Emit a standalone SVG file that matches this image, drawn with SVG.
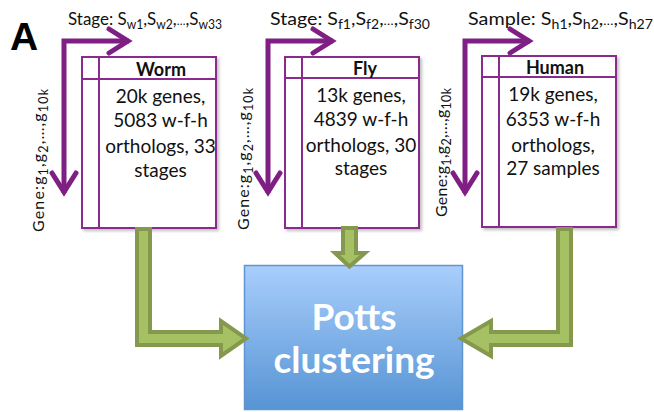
<svg xmlns="http://www.w3.org/2000/svg" width="654" height="412" viewBox="0 0 654 412">
  <defs>
    <style>
      .lbl { font-family: Lato, "Liberation Sans", sans-serif; font-size: 17.5px; fill: #111; }
      .sub { font-size: 12.5px; }
      .ell { font-size: 12px; }
      .gene { font-family: Lato, "Liberation Sans", sans-serif; font-size: 16px; fill: #111; }
      .title { font-family: Lato, "Liberation Sans", sans-serif; font-size: 18px; font-weight: bold; fill: #111; text-anchor: middle; }
      .body { font-family: Lato, "Liberation Sans", sans-serif; font-size: 19px; fill: #111; text-anchor: middle; }
      .box { fill: #fff; stroke: #8a2a8e; stroke-width: 2; }
      .div { stroke: #8a2a8e; stroke-width: 2; fill: none; }
      .axis { stroke: #7f1f84; stroke-width: 5; fill: none; }
      .flow { fill: #a6c164; stroke: #84984e; stroke-width: 4; stroke-linejoin: miter; }
      .potts { font-family: Lato, "Liberation Sans", sans-serif; font-size: 37px; font-weight: bold; fill: #fff; text-anchor: middle; }
    </style>
    <marker id="chev" markerUnits="userSpaceOnUse" markerWidth="26" markerHeight="28" viewBox="0 0 26 28" refX="23" refY="14" orient="auto-start-reverse" overflow="visible">
      <path d="M3,2 L22,14 L3,26" fill="none" stroke="#7f1f84" stroke-width="5" stroke-linecap="round" stroke-linejoin="miter"/>
    </marker>
    <linearGradient id="blue" x1="0" y1="0" x2="0" y2="1">
      <stop offset="0" stop-color="#a9cefc"/>
      <stop offset="1" stop-color="#5694d4"/>
    </linearGradient>
    <filter id="shadow" x="-10%" y="-10%" width="125%" height="125%">
      <feDropShadow dx="2" dy="2" stdDeviation="1.5" flood-color="#000" flood-opacity="0.25"/>
    </filter>
  </defs>

  <!-- panel letter -->
  <text x="10" y="50" font-family="'Liberation Sans', Arial, sans-serif" font-size="39" font-weight="bold" fill="#000">A</text>

  <!-- worm data matrix -->
  <g id="worm">
    <text class="lbl" x="68" y="25" textLength="154" lengthAdjust="spacingAndGlyphs">Stage: S<tspan class="sub" dy="4">w1</tspan><tspan dy="-4">,S</tspan><tspan class="sub" dy="4">w2</tspan><tspan dy="-4">,</tspan><tspan class="ell">…</tspan>,S<tspan class="sub" dy="4">w33</tspan></text>
    <path class="axis" d="M64,193 V41 H129" marker-start="url(#chev)" marker-end="url(#chev)"/>
    <text class="gene" transform="translate(44,232) rotate(-90)" textLength="143">Gene:g<tspan class="sub" dy="4">1</tspan><tspan dy="-4">,g</tspan><tspan class="sub" dy="4">2</tspan><tspan dy="-4">,…,g</tspan><tspan class="sub" dy="4">10k</tspan></text>
    <rect class="box" x="82" y="57" width="134" height="171" filter="url(#shadow)"/>
    <path class="div" d="M99,57 V228 M82,79 H216"/>
    <text class="title" x="161" y="76">Worm</text>
    <text class="body" x="160.5" y="103">20k  genes,</text>
    <text class="body" x="160.5" y="127">5083 w-f-h</text>
    <text class="body" x="160.5" y="153">orthologs, 33</text>
    <text class="body" x="160.5" y="177">stages</text>
  </g>

  <!-- fly data matrix -->
  <g id="fly">
    <text class="lbl" x="270" y="25" textLength="160" lengthAdjust="spacingAndGlyphs">Stage: S<tspan class="sub" dy="4">f1</tspan><tspan dy="-4">,S</tspan><tspan class="sub" dy="4">f2</tspan><tspan dy="-4">,</tspan><tspan class="ell">…</tspan>,S<tspan class="sub" dy="4">f30</tspan></text>
    <path class="axis" d="M268,193 V41 H333" marker-start="url(#chev)" marker-end="url(#chev)"/>
    <text class="gene" transform="translate(249,230) rotate(-90)" textLength="142">Gene:g<tspan class="sub" dy="4">1</tspan><tspan dy="-4">,g</tspan><tspan class="sub" dy="4">2</tspan><tspan dy="-4">,…,g</tspan><tspan class="sub" dy="4">10k</tspan></text>
    <rect class="box" x="285" y="57" width="134" height="171" filter="url(#shadow)"/>
    <path class="div" d="M302,57 V228 M285,78 H419"/>
    <text class="title" x="365" y="75">Fly</text>
    <text class="body" x="361" y="102">13k genes,</text>
    <text class="body" x="361" y="126">4839 w-f-h</text>
    <text class="body" x="361" y="152">orthologs, 30</text>
    <text class="body" x="361" y="175">stages</text>
  </g>

  <!-- human data matrix -->
  <g id="human">
    <text class="lbl" x="468" y="25" textLength="185" lengthAdjust="spacingAndGlyphs">Sample: S<tspan class="sub" dy="4">h1</tspan><tspan dy="-4">,S</tspan><tspan class="sub" dy="4">h2</tspan><tspan dy="-4">,</tspan><tspan class="ell">…</tspan>,S<tspan class="sub" dy="4">h27</tspan></text>
    <path class="axis" d="M465,193 V41 H530" marker-start="url(#chev)" marker-end="url(#chev)"/>
    <text class="gene" transform="translate(446.5,217) rotate(-90)" textLength="129">Gene:g<tspan class="sub" dy="4">1</tspan><tspan dy="-4">,g</tspan><tspan class="sub" dy="4">2</tspan><tspan dy="-4">,…,g</tspan><tspan class="sub" dy="4">10k</tspan></text>
    <rect class="box" x="482" y="56" width="134" height="171" filter="url(#shadow)"/>
    <path class="div" d="M499,56 V227 M482,77 H616"/>
    <text class="title" x="555" y="74">Human</text>
    <text class="body" x="553" y="101">19k genes,</text>
    <text class="body" x="553" y="126">6353 w-f-h</text>
    <text class="body" x="553" y="152">orthologs,</text>
    <text class="body" x="553" y="175">27 samples</text>
  </g>

  <!-- clustering step -->
  <g id="potts">
    <rect x="244.5" y="265.5" width="218" height="144" fill="url(#blue)" stroke="#5f95d2" stroke-width="1.5"/>
    <text class="potts" x="354" y="330">Potts</text>
    <text class="potts" x="354" y="373">clustering</text>
  </g>

  <!-- block arrows feeding the clustering -->
  <g id="connectors">
    <polygon class="flow" points="137,229 150,229 150,332 221,332 221,321 246,338.5 221,356 221,345 137,345"/>
    <polygon class="flow" points="343,228 356,228 356,253 365,253 349.5,266.5 335,253 343,253"/>
    <polygon class="flow" points="571,229 571,345 491,345 491,356 461,338.5 491,321 491,332 558,332 558,229"/>
  </g>
</svg>
